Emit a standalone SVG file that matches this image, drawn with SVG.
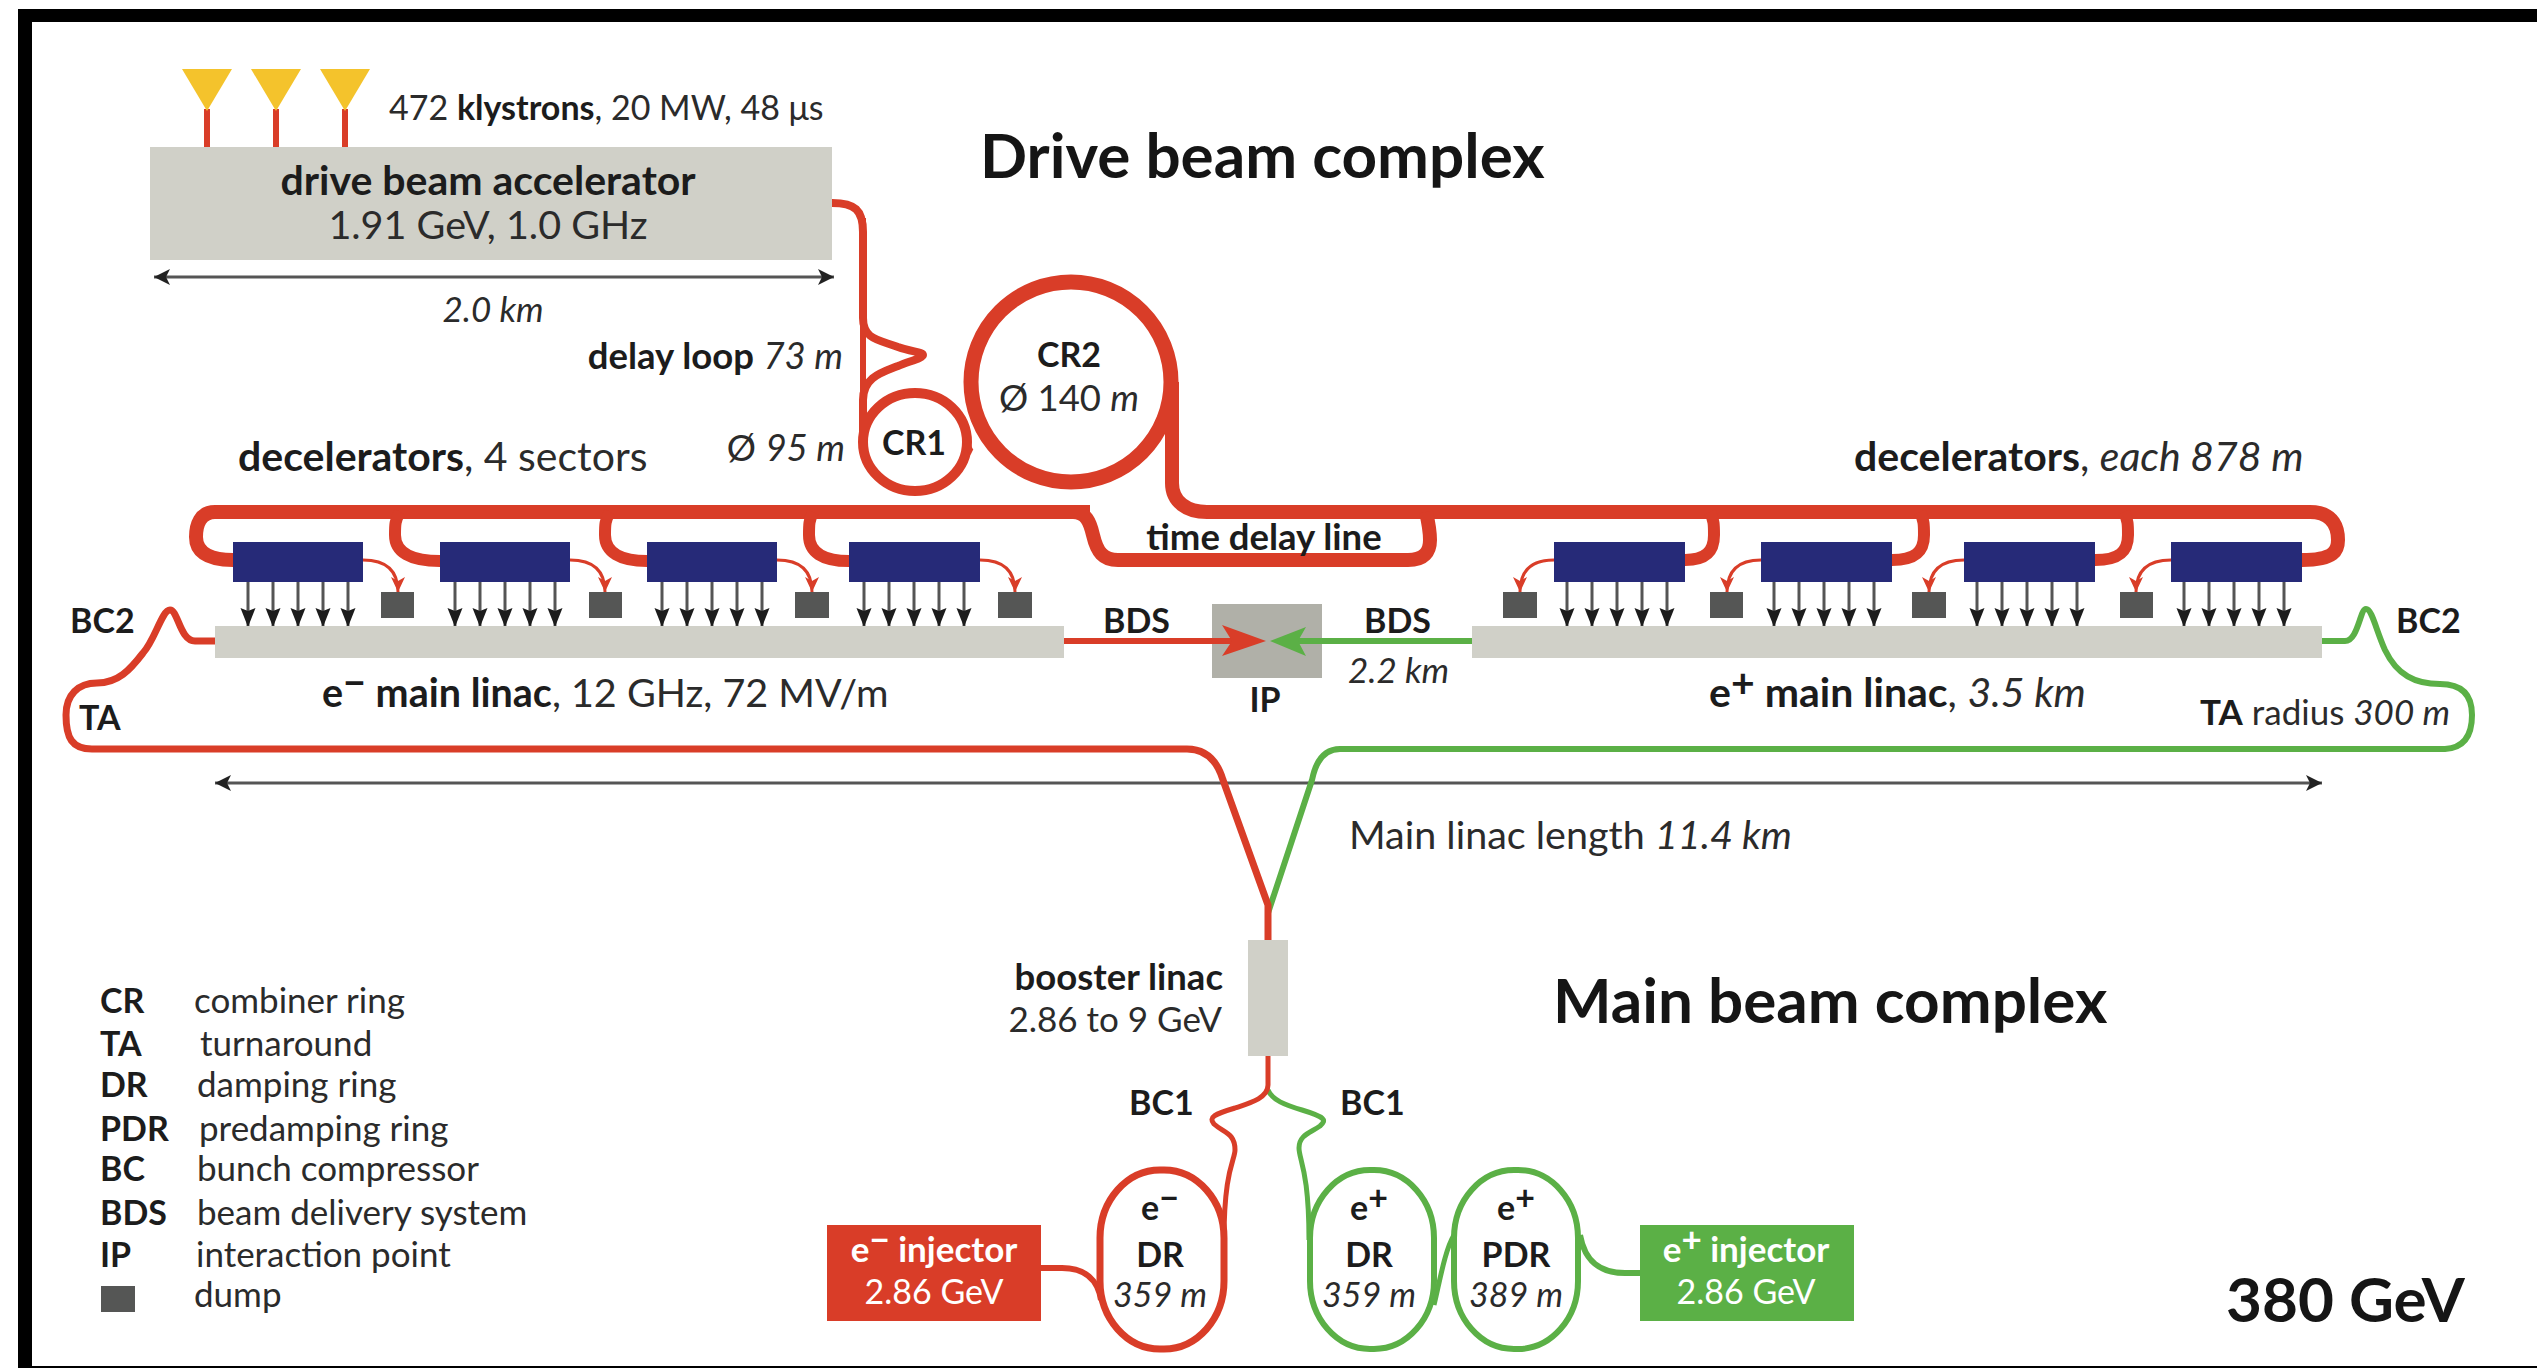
<svg xmlns="http://www.w3.org/2000/svg" width="2537" height="1368" viewBox="0 0 2537 1368">
<style>
text{font-family:"Lato","Liberation Sans",sans-serif;fill:#2b2b2b;font-size:34px}
.b{font-weight:700;fill:#1c1c1c}
.i{font-style:italic}
.m{text-anchor:middle}
.e{text-anchor:end}
.h{font-weight:700;font-size:62px;fill:#151515}
.w{fill:#fff}
.f35{font-size:35px}
.f36{font-size:36.500px}
.f39{font-size:39.500px}
.f41{font-size:41px}
.line{fill:none;stroke-linejoin:round;stroke-linecap:butt}
.r{stroke:#d93d28}
.g{stroke:#5bb046}
.gr{fill:#d0d0c8}
.navy{fill:#262a78}
.dump{fill:#555655}
.kly{fill:#f4c32c}
.dim{fill:none;stroke:#555;stroke-width:3;marker-start:url(#ds);marker-end:url(#de)}
.down path{stroke:#555;stroke-width:3;marker-end:url(#dn)}
.thin{fill:none;stroke:#d93d28;stroke-width:3;marker-end:url(#rn)}
</style>
<defs>
<marker id="de" markerUnits="userSpaceOnUse" markerWidth="18" markerHeight="18" refX="16" refY="9" orient="auto"><path d="M0 1L16 9L0 17L4 9Z" fill="#222"/></marker>
<marker id="ds" markerUnits="userSpaceOnUse" markerWidth="18" markerHeight="18" refX="0" refY="9" orient="auto"><path d="M16 1L0 9L16 17L12 9Z" fill="#222"/></marker>
<marker id="dn" markerUnits="userSpaceOnUse" markerWidth="20" markerHeight="22" refX="19" refY="9" orient="auto"><path d="M0 1.500L19 9L0 16.500L3 9Z" fill="#1c1c1c"/></marker>
<marker id="rn" markerUnits="userSpaceOnUse" markerWidth="18" markerHeight="16" refX="15" refY="7" orient="auto"><path d="M0 0L15 7L0 14L4 7Z" fill="#d93d28"/></marker>
</defs>
<rect width="2537" height="1368" fill="#fff"/>
<g id="frame" fill="#000">
<rect x="18" y="9" width="2519" height="13"/>
<rect x="18" y="9" width="14" height="1359"/>
<rect x="18" y="1366" width="2519" height="2"/>
</g>
<g id="ip-box"><rect x="1212" y="604" width="110" height="74" fill="#b0b0a8"/></g>

<g id="connectors">
<path class="line r" stroke-width="6" d="M207 109V147M276 109V147M345 109V147"/>
<path class="line r" stroke-width="8" d="M832 203C855 203 863 210 863 232V318C863 340 880 340 898 347C912 352 923 352 923 355C923 358 910 361 898 366C880 373 863 378 863 400V442"/>
<ellipse class="line r" stroke-width="10" cx="915" cy="442" rx="52" ry="49"/>
<path class="line r" stroke-width="6" d="M863 218V440"/>
<ellipse class="line r" stroke-width="15" cx="1071" cy="382" rx="100" ry="100"/>
<path class="line r" stroke-width="6" d="M964 440C968 440 968 450 972 452"/>
<path class="line r" stroke-width="14" d="M1172 382V483C1172 502 1187 512 1207 512H2310C2335 512 2338 530 2338 540C2338 550 2335 560 2302 560"/>
<path class="line r" stroke-width="14" d="M1090 512H215C200 512 196 525 196 537C196 550 205 560 233 560"/>
<path class="line r" stroke-width="14" d="M1060 512H1073C1086 512 1090 522 1093 535C1097 552 1103 560 1118 560H1408C1424 560 1430 552 1430 540C1430 530 1429 525 1426 512"/>
<path class="line r" stroke-width="12" d="M400 512C395 520 395 525 395 535C395 552 410 561 440 561M610 512C605 520 605 525 605 535C605 552 620 561 647 561M813 512C809 520 809 525 809 535C809 552 822 561 849 561"/>
<path class="line r" stroke-width="12" d="M1710 512C1714 520 1714 525 1714 535C1714 552 1705 560 1685 560M1920 512C1924 520 1924 525 1924 535C1924 552 1915 560 1892 560M2124 512C2128 520 2128 525 2128 535C2128 552 2119 560 2095 560"/>
<path class="thin" d="M363 560C385 560 398 570 398 592"/>
<path class="thin" d="M570 560C592 560 605 570 605 592"/>
<path class="thin" d="M777 560C799 560 812 570 812 592"/>
<path class="thin" d="M980 560C1002 560 1015 570 1015 592"/>
<path class="thin" d="M1554 560C1532 560 1520 570 1520 592"/>
<path class="thin" d="M1761 560C1739 560 1727 570 1727 592"/>
<path class="thin" d="M1964 560C1942 560 1929 570 1929 592"/>
<path class="thin" d="M2171 560C2149 560 2136 570 2136 592"/>
<g class="down">
<path d="M248 582V627"/><path d="M273 582V627"/><path d="M298 582V627"/><path d="M323 582V627"/><path d="M348 582V627"/>
<path d="M455 582V627"/><path d="M480 582V627"/><path d="M505 582V627"/><path d="M530 582V627"/><path d="M555 582V627"/>
<path d="M662 582V627"/><path d="M687 582V627"/><path d="M712 582V627"/><path d="M737 582V627"/><path d="M762 582V627"/>
<path d="M864 582V627"/><path d="M889 582V627"/><path d="M914 582V627"/><path d="M939 582V627"/><path d="M964 582V627"/>
<path d="M1567 582V627"/><path d="M1592 582V627"/><path d="M1617 582V627"/><path d="M1642 582V627"/><path d="M1667 582V627"/>
<path d="M1774 582V627"/><path d="M1799 582V627"/><path d="M1824 582V627"/><path d="M1849 582V627"/><path d="M1874 582V627"/>
<path d="M1977 582V627"/><path d="M2002 582V627"/><path d="M2027 582V627"/><path d="M2052 582V627"/><path d="M2077 582V627"/>
<path d="M2184 582V627"/><path d="M2209 582V627"/><path d="M2234 582V627"/><path d="M2259 582V627"/><path d="M2284 582V627"/>
</g>
<path class="dim" d="M215 783H2322"/>
<path class="dim" d="M154 277H834"/>
<path class="line g" stroke-width="6" d="M2322 641H2345C2358 641 2360 609 2366 609C2372 609 2376 630 2385 650C2397 675 2415 684 2440 684C2462 684 2472 695 2472 715C2472 738 2462 748 2445 749H1340C1325 749 1316 760 1312 780L1268 913"/>
<path class="line r" stroke-width="7" d="M215 641H195C180 641 178 610 170 610C162 610 155 640 143 653C130 670 118 683 97 683C78 683 66 695 66 715C66 738 72 749 92 749H1187C1205 749 1217 760 1223 780L1268 905V940"/>
<path class="line r" stroke-width="6" d="M1064 641H1235"/>
<path d="M1266 641L1222 625L1232 641L1222 656Z" fill="#d93d28"/>
<path class="line g" stroke-width="6" d="M1472 641H1295"/>
<path d="M1270 641L1306 627L1298 641L1306 656Z" fill="#5bb046"/>
<path class="line g" stroke-width="5" d="M1268 1090C1272 1100 1285 1105 1302 1110C1325 1117 1327 1120 1320 1126C1310 1133 1299 1135 1299 1148C1299 1160 1309 1170 1309 1240"/>
<path class="line r" stroke-width="5" d="M1268 1056V1085C1268 1098 1250 1103 1235 1108C1215 1114 1208 1117 1214 1124C1224 1133 1235 1133 1235 1150C1235 1160 1224 1170 1224 1240"/>
<path class="line g" stroke-width="5" d="M1434 1305C1440 1280 1445 1250 1454 1235"/>
<path class="line r" stroke-width="6" d="M1041 1268H1062C1085 1268 1098 1280 1101 1300"/>
<path class="line g" stroke-width="6" d="M1640 1273H1625C1600 1273 1585 1262 1580 1235"/>
</g>

<g id="klystrons">
<path class="kly" d="M182 69H232L207 111Z"/>
<path class="kly" d="M251 69H301L276 111Z"/>
<path class="kly" d="M320 69H370L345 111Z"/>
<text x="389" y="120">472 <tspan class="b">klystrons</tspan>, 20 MW, 48 μs</text>
</g>
<g id="drive-beam-accelerator">
<rect class="gr" x="150" y="147" width="682" height="113"/>
<text class="b m f41" x="488" y="195">drive beam accelerator</text>
<text class="m f39" x="488" y="239">1.91 GeV, 1.0 GHz</text>
<text class="i m f35" x="493" y="322">2.0 km</text>
</g>
<g id="titles">
<text class="h" x="980" y="178">Drive beam complex</text>
<text class="h" x="1553" y="1023">Main beam complex</text>
<text class="h" x="2226" y="1322">380 GeV</text>
</g>
<g id="delay-loop"><text class="e f36" x="843" y="369"><tspan class="b">delay loop</tspan> <tspan class="i">73 m</tspan></text></g>
<g id="cr1">
<text class="e f36" x="845" y="461">Ø <tspan class="i">95 m</tspan></text>
<text class="b m" x="914" y="455">CR1</text>
</g>
<g id="cr2">
<text class="b m" x="1069" y="367">CR2</text>
<text class="m f36" x="1069" y="411">Ø 140 <tspan class="i">m</tspan></text>
</g>
<g id="decelerators-left">
<text class="f41" x="238" y="471"><tspan class="b">decelerators</tspan>, 4 sectors</text>
<rect class="navy" x="233" y="542" width="130" height="40"/>
<rect class="navy" x="440" y="542" width="130" height="40"/>
<rect class="navy" x="647" y="542" width="130" height="40"/>
<rect class="navy" x="849" y="542" width="131" height="40"/>
<rect class="dump" x="381" y="592" width="33" height="26"/>
<rect class="dump" x="589" y="592" width="33" height="26"/>
<rect class="dump" x="795" y="592" width="34" height="26"/>
<rect class="dump" x="998" y="592" width="34" height="26"/>
</g>
<g id="decelerators-right">
<text class="f41" x="1854" y="471"><tspan class="b">decelerators</tspan>, <tspan class="i">each 878 m</tspan></text>
<rect class="navy" x="1554" y="542" width="131" height="40"/>
<rect class="navy" x="1761" y="542" width="131" height="40"/>
<rect class="navy" x="1964" y="542" width="131" height="40"/>
<rect class="navy" x="2171" y="542" width="131" height="40"/>
<rect class="dump" x="1503" y="592" width="34" height="26"/>
<rect class="dump" x="1710" y="592" width="33" height="26"/>
<rect class="dump" x="1912" y="592" width="34" height="26"/>
<rect class="dump" x="2120" y="592" width="33" height="26"/>
</g>
<g id="time-delay-line"><text class="b m f36" x="1264" y="550">time delay line</text></g>
<g id="e-main-linac">
<rect class="gr" x="215" y="626" width="849" height="32"/>
<text class="f39" x="322" y="707"><tspan class="b">e<tspan dy="-10">−</tspan><tspan dy="10"> main linac</tspan></tspan>, 12 GHz, 72 MV/m</text>
</g>
<g id="p-main-linac">
<rect class="gr" x="1472" y="626" width="850" height="32"/>
<text class="f41" x="1709" y="707"><tspan class="b">e<tspan dy="-10">+</tspan><tspan dy="10"> main linac</tspan></tspan>, <tspan class="i">3.5 km</tspan></text>
</g>
<g id="ip"><text class="b m" x="1265" y="712">IP</text></g>
<g id="labels">
<text class="b" x="70" y="633">BC2</text>
<text class="b" x="79" y="730">TA</text>
<text class="b" x="1103" y="633">BDS</text>
<text class="b" x="1364" y="633">BDS</text>
<text class="i f35" x="1348" y="683">2.2 km</text>
<text class="b" x="2396" y="633">BC2</text>
<text class="f35" x="2200" y="725"><tspan class="b">TA</tspan> radius <tspan class="i">300 m</tspan></text>
<text class="f39" x="1349" y="849">Main linac length <tspan class="i">11.4 km</tspan></text>
<text class="b" x="1129" y="1115">BC1</text>
<text class="b" x="1340" y="1115">BC1</text>
</g>
<g id="booster-linac">
<rect class="gr" x="1248" y="940" width="40" height="116"/>
<text class="b e f36" x="1223" y="990">booster linac</text>
<text class="e f35" x="1222" y="1032">2.86 to 9 GeV</text>
</g>
<g id="e-injector">
<rect x="827" y="1225" width="214" height="96" fill="#d93d28"/>
<text class="b w m f35" x="934" y="1262">e<tspan dy="-10">−</tspan><tspan dy="10"> injector</tspan></text>
<text class="w m" x="934" y="1304">2.86 GeV</text>
</g>
<g id="p-injector">
<rect x="1640" y="1225" width="214" height="96" fill="#5bb046"/>
<text class="b w m f35" x="1746" y="1262">e<tspan dy="-10">+</tspan><tspan dy="10"> injector</tspan></text>
<text class="w m" x="1746" y="1304">2.86 GeV</text>
</g>
<g id="e-dr">
<rect class="line r" stroke-width="7" x="1100" y="1170" width="124" height="179" rx="60" ry="68"/>
<text class="b m" x="1160" y="1220">e<tspan dy="-10">−</tspan></text>
<text class="b m" x="1160" y="1267">DR</text>
<text class="i m" x="1160" y="1307">359 m</text>
</g>
<g id="p-dr">
<rect class="line g" stroke-width="6" x="1310" y="1170" width="124" height="179" rx="60" ry="68"/>
<text class="b m" x="1369" y="1220">e<tspan dy="-10">+</tspan></text>
<text class="b m" x="1369" y="1267">DR</text>
<text class="i m" x="1369" y="1307">359 m</text>
</g>
<g id="p-pdr">
<rect class="line g" stroke-width="6" x="1454" y="1170" width="124" height="179" rx="60" ry="68"/>
<text class="b m" x="1516" y="1220">e<tspan dy="-10">+</tspan></text>
<text class="b m" x="1516" y="1267">PDR</text>
<text class="i m" x="1516" y="1307">389 m</text>
</g>
<g id="legend">
<text class="b" x="100" y="1013">CR</text><text class="f35" x="194" y="1013">combiner ring</text>
<text class="b" x="100" y="1056">TA</text><text class="f35" x="200" y="1056">turnaround</text>
<text class="b" x="100" y="1097">DR</text><text class="f35" x="197" y="1097">damping ring</text>
<text class="b" x="100" y="1141">PDR</text><text class="f35" x="199" y="1141">predamping ring</text>
<text class="b" x="100" y="1181">BC</text><text class="f35" x="197" y="1181">bunch compressor</text>
<text class="b" x="100" y="1225">BDS</text><text class="f35" x="197" y="1225">beam delivery system</text>
<text class="b" x="100" y="1267">IP</text><text class="f35" x="196" y="1267">interaction point</text>
<rect class="dump" x="101" y="1286" width="34" height="26"/><text class="f35" x="194" y="1307">dump</text>
</g>
</svg>
